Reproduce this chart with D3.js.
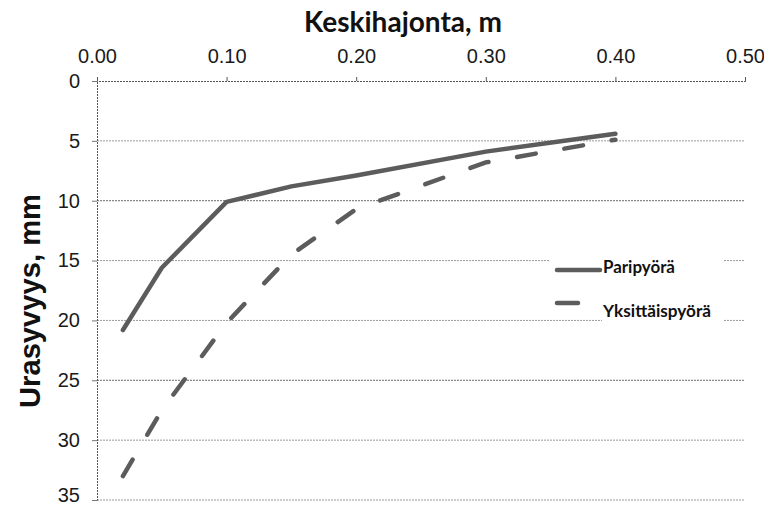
<!DOCTYPE html>
<html><head><meta charset="utf-8">
<script src="https://cdn.jsdelivr.net/npm/d3@7"></script>
<style>body{margin:0;background:#fff}svg{display:block}</style>
</head><body>
<svg id="c" width="764" height="506"></svg>
<script>
const xTicks = [0, 0.1, 0.2, 0.3, 0.4, 0.5];
const yTicks = [0, 5, 10, 15, 20, 25, 30, 35];
const seriesNames = ["Paripyörä", "Yksittäispyörä"];
const pariX = [0.02, 0.05, 0.10, 0.15, 0.20, 0.30, 0.40];
const pariY = [20.8, 15.6, 10.1, 8.8, 7.9, 5.9, 4.4];
const yksX = [0.02, 0.05, 0.10, 0.15, 0.20, 0.30, 0.40];
const yksY = [33.0, 27.5, 20.2, 14.5, 10.7, 6.8, 4.9];
const xTitle = "Keskihajonta, m";
const yTitle = "Urasyvyys, mm";

const svg = d3.select("#c");
const x = d3.scaleLinear().domain([0, 0.5]).range([97, 745]);
const y = d3.scaleLinear().domain([0, 35]).range([81, 500]);

// gridlines
svg.append("g").selectAll("line").data(yTicks.filter(d => d > 0)).join("line")
  .attr("x1", x(0)).attr("x2", x(0.5))
  .attr("y1", d => y(d)).attr("y2", d => y(d))
  .attr("stroke", d => (d === 10 || d === 25) ? "#6a6a6a" : "#9a9a9a")
  .attr("stroke-width", 1).attr("stroke-dasharray", "2,1");

// top axis
const xAxis = d3.axisTop(x).tickValues(xTicks).tickFormat(d3.format(".2f")).tickSize(4).tickPadding(14);
const gx = svg.append("g").attr("transform", `translate(0,${y(0)})`).call(xAxis);
gx.select(".domain").attr("stroke", "#555").attr("stroke-dasharray", "2,1");
gx.selectAll(".tick line").attr("stroke", "#555");
gx.selectAll("text").attr("font-family", "Liberation Sans, Arial, sans-serif").attr("font-size", 20).attr("fill", "#1a1a1a");

// left axis
const yAxis = d3.axisLeft(y).tickValues(yTicks).tickSize(5).tickPadding(12);
const gy = svg.append("g").attr("transform", `translate(${x(0)},0)`).call(yAxis);
gy.select(".domain").attr("stroke", "#555").attr("stroke-dasharray", "2,1");
gy.selectAll(".tick line").attr("stroke", "#777");
gy.selectAll("text").attr("font-family", "Liberation Sans, Arial, sans-serif").attr("font-size", 20).attr("fill", "#1a1a1a")
  .attr("dy", d => d === 35 ? "0.05em" : "0.32em");

// lines
const line = d3.line().x(d => x(d[0])).y(d => y(d[1]));
const pari = pariX.map((v, i) => [v, pariY[i]]);
const yks = yksX.map((v, i) => [v, yksY[i]]);
svg.append("path").datum(pari).attr("d", line).attr("fill", "none")
  .attr("stroke", "#5c5c5c").attr("stroke-width", 4.5).attr("stroke-linejoin", "round").attr("stroke-linecap", "round");
svg.append("path").datum(yks).attr("d", line).attr("fill", "none")
  .attr("stroke", "#5c5c5c").attr("stroke-width", 4.5).attr("stroke-linecap", "round")
  .attr("stroke-dasharray", "19,29");

// fit helper
function fit(t, w) {
  const len = t.node().getComputedTextLength();
  const fs = parseFloat(t.attr("font-size"));
  t.attr("font-size", fs * w / len);
}

// titles
const tt = svg.append("text").attr("x", 403).attr("y", 32).attr("text-anchor", "middle")
  .attr("font-family", "Lato, 'Open Sans', sans-serif").attr("font-weight", "bold")
  .attr("font-size", 24).attr("fill", "#111").text(xTitle);
fit(tt, 198);
const yt = svg.append("text").attr("transform", "translate(40,301) rotate(-90)").attr("text-anchor", "middle")
  .attr("font-family", "Liberation Sans, Arial, sans-serif").attr("font-weight", "bold")
  .attr("font-size", 28).attr("fill", "#111").text(yTitle);
fit(yt, 214);

// legend
svg.append("rect").attr("x", 550).attr("y", 255).attr("width", 174).attr("height", 44).attr("fill", "#fff");
svg.append("rect").attr("x", 602).attr("y", 299).attr("width", 122).attr("height", 26).attr("fill", "#fff");
svg.append("line").attr("x1", 557).attr("x2", 600).attr("y1", 270).attr("y2", 270)
  .attr("stroke", "#5c5c5c").attr("stroke-width", 4.5).attr("stroke-linecap", "round");
svg.append("line").attr("x1", 557).attr("x2", 578).attr("y1", 303).attr("y2", 303)
  .attr("stroke", "#5c5c5c").attr("stroke-width", 4.5).attr("stroke-linecap", "round");
const l1 = svg.append("text").attr("x", 603).attr("y", 273)
  .attr("font-family", "Lato, 'Open Sans', sans-serif").attr("font-weight", "bold")
  .attr("font-size", 14).attr("fill", "#111").text(seriesNames[0]);
fit(l1, 72);
const l2 = svg.append("text").attr("x", 603).attr("y", 317)
  .attr("font-family", "Lato, 'Open Sans', sans-serif").attr("font-weight", "bold")
  .attr("font-size", 14).attr("fill", "#111").text(seriesNames[1]);
fit(l2, 108);
</script>
</body></html>
